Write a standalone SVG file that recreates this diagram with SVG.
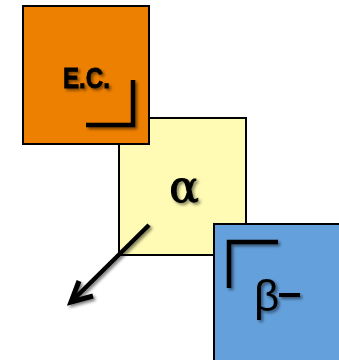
<svg xmlns="http://www.w3.org/2000/svg" width="339" height="360" viewBox="0 0 339 360">
<defs>
<filter id="sh" filterUnits="userSpaceOnUse" x="0" y="0" width="339" height="360">
<feGaussianBlur in="SourceAlpha" stdDeviation="1.5"/>
<feOffset dx="2" dy="2" result="b"/>
<feComponentTransfer><feFuncA type="linear" slope="0.5"/></feComponentTransfer>
<feMerge><feMergeNode/><feMergeNode in="SourceGraphic"/></feMerge>
</filter>
</defs>
<style>
.box{stroke:#000;stroke-width:2}
.mark{fill:none;stroke:#000;stroke-width:4.5;stroke-linecap:butt}
.lbl{fill:#000}
</style>
<rect width="339" height="360" fill="#fff"/>
<g id="alpha">
<rect class="box" x="119" y="118" width="127" height="137" fill="#FFFBB4"/>
<text class="lbl" x="184" y="202" font-family="DejaVu Serif, serif" font-size="44" text-anchor="middle" stroke="#000" stroke-width="1" filter="url(#sh)">α</text>
</g>
<g id="ec">
<rect class="box" x="23" y="6" width="126" height="138" fill="#ED8000"/>
<text class="lbl" x="63" y="88" font-family="Liberation Sans, sans-serif" font-weight="bold" font-size="30" textLength="47" lengthAdjust="spacingAndGlyphs" stroke="#000" stroke-width="0.8" filter="url(#sh)">E.C.</text>
<polyline class="mark" points="133,80 133,125 86,125" filter="url(#sh)"/>
</g>
<g id="beta">
<rect class="box" x="214" y="224" width="130" height="140" fill="#64A0DC"/>
<polyline class="mark" points="229,288 229,242 278,242" filter="url(#sh)"/>
<text class="lbl" x="254" y="311" font-family="Liberation Sans, sans-serif" font-size="44" filter="url(#sh)">β</text>
<rect x="279" y="293" width="21" height="4" fill="#000" filter="url(#sh)"/>
</g>
<g id="connectors" filter="url(#sh)">
<line x1="149" y1="225" x2="73" y2="300" stroke="#000" stroke-width="4.5"/>
<polyline points="79,281 71,302 93,296" fill="none" stroke="#000" stroke-width="5" stroke-linejoin="miter"/>
</g>
</svg>
